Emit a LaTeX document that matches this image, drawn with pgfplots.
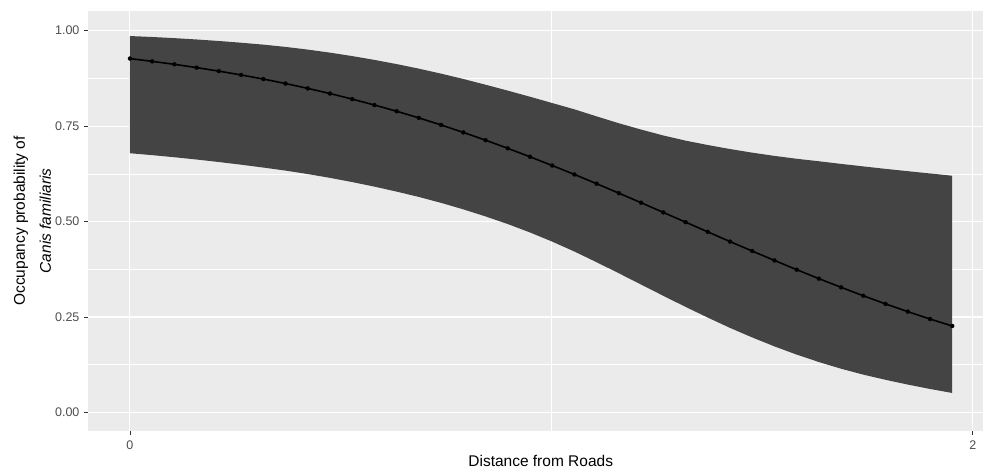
\documentclass[border=0pt]{standalone}
\usepackage{fontspec}
\setmainfont{Liberation Sans}
\usepackage{pgfplots}
\usepackage{pgfplotstable}
\pgfplotsset{compat=1.18}
\usepgfplotslibrary{fillbetween}
\definecolor{panel}{HTML}{EBEBEB}
\definecolor{ribbon}{HTML}{444444}
\definecolor{ticktext}{HTML}{4D4D4D}
\definecolor{tickline}{HTML}{333333}

\pgfplotstableread{
x      p      lo     up
0.0000 0.9270 0.6790 0.9860
0.0527 0.9197 0.6740 0.9835
0.1055 0.9119 0.6685 0.9805
0.1582 0.9033 0.6625 0.9770
0.2109 0.8941 0.6560 0.9730
0.2637 0.8841 0.6490 0.9685
0.3164 0.8733 0.6415 0.9635
0.3691 0.8616 0.6335 0.9575
0.4218 0.8489 0.6245 0.9505
0.4746 0.8354 0.6145 0.9425
0.5273 0.8208 0.6035 0.9335
0.5800 0.8053 0.5915 0.9235
0.6328 0.7890 0.5785 0.9125
0.6855 0.7716 0.5645 0.9005
0.7382 0.7531 0.5490 0.8875
0.7910 0.7336 0.5320 0.8735
0.8437 0.7132 0.5135 0.8585
0.8964 0.6919 0.4935 0.8430
0.9491 0.6697 0.4715 0.8270
1.0019 0.6468 0.4475 0.8105
1.0546 0.6234 0.4215 0.7940
1.1073 0.5992 0.3935 0.7755
1.1601 0.5744 0.3645 0.7575
1.2128 0.5494 0.3350 0.7410
1.2655 0.5240 0.3055 0.7255
1.3183 0.4985 0.2765 0.7120
1.3710 0.4730 0.2485 0.7005
1.4237 0.4476 0.2215 0.6900
1.4764 0.4228 0.1965 0.6805
1.5292 0.3982 0.1730 0.6720
1.5819 0.3740 0.1515 0.6645
1.6346 0.3505 0.1320 0.6580
1.6874 0.3277 0.1145 0.6510
1.7401 0.3056 0.0990 0.6445
1.7928 0.2843 0.0855 0.6380
1.8456 0.2641 0.0730 0.6320
1.8983 0.2447 0.0615 0.6260
1.9510 0.2265 0.0510 0.6200
}\data

\begin{document}
\begin{tikzpicture}
\begin{axis}[
  at={(88pt,41pt)}, anchor=south west,
  width=896pt, height=420pt, scale only axis,
  xmin=-0.0996, xmax=2.0251,
  ymin=-0.048, ymax=1.0516,
  axis background/.style={fill=panel},
  axis line style={draw=none},
  xtick pos=bottom, ytick pos=left,
  xtick={0,2}, xticklabels={0,2},
  minor xtick={1},
  ytick={0,0.25,0.5,0.75,1},
  yticklabels={0.00,0.25,0.50,0.75,1.00},
  minor ytick={0.125,0.375,0.625,0.875},
  grid=both,
  major grid style={white, line width=1.1pt},
  minor grid style={white, line width=0.55pt},
  tick align=outside,
  major tick length=4pt,
  minor tick length=0pt,
  tick style={tickline, line width=0.8pt},
  ticklabel style={font=\fontsize{12.5}{14}\selectfont, text=ticktext},
  /pgf/number format/assume math mode=true,
  xticklabel style={yshift=-2pt},
  yticklabel style={xshift=-1pt},
  clip=true,
]
\addplot[name path=U, draw=none, forget plot] table[x=x, y=up] {\data};
\addplot[name path=L, draw=none, forget plot] table[x=x, y=lo] {\data};
\addplot[fill=ribbon, draw=none, forget plot] fill between[of=U and L];
\addplot[black, line width=1.6pt, mark=*, mark size=2pt, mark options={black, line width=0.3pt}] table[x=x, y=p] {\data};
\end{axis}
\node[rotate=90, anchor=base, font=\fontsize{15.5}{18}\selectfont] at (25pt,251pt) {Occupancy probability of};
\node[rotate=90, anchor=base, font=\fontsize{15.5}{18}\selectfont\itshape] at (51pt,251pt) {Canis familiaris};
\node[anchor=base, font=\fontsize{15.5}{18}\selectfont] at (541pt,5pt) {Distance from Roads};
\path (0pt,0pt) rectangle (984pt,472pt);
\end{tikzpicture}
\end{document}
